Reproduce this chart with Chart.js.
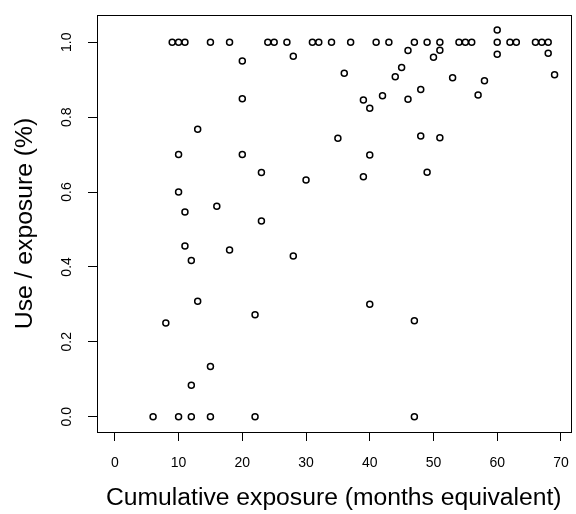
<!DOCTYPE html>
<html>
<head>
<meta charset="utf-8">
<script src="https://cdn.jsdelivr.net/npm/chart.js@4"></script>
<style>
html,body{margin:0;padding:0;background:#fff;}
canvas{display:block;}
</style>
</head>
<body>
<canvas id="c" width="576" height="514"></canvas>
<script>
// Cumulative exposure (months equivalent)
const exposure = [
  9,10,11,15,18,24,25,27,31,32,34,37,41,43,47,49,51,54,55,56,60,62,63,66,67,68,
  20,28,36,20,13,35,10,20,23,30,10,11,16,23,
  60,60,68,69,46,51,50,45,44,53,58,57,48,42,46,39,40,48,51,40,49,39,
  11,18,12,28,13,22,8,15,12,
  6,10,12,15,22,47,
  40,47
];
// Use / exposure
const useRatio = [
  1,1,1,1,1,1,1,1,1,1,1,1,1,1,1,1,1,1,1,1,1,1,1,1,1,1,
  0.950,0.963,0.917,0.849,0.768,0.744,0.700,0.700,0.652,0.632,0.600,0.547,0.562,0.523,
  0.968,1.033,0.971,0.913,0.978,0.979,0.960,0.933,0.908,0.905,0.897,0.859,0.874,0.857,0.848,0.846,0.824,0.750,0.745,0.699,0.653,0.641,
  0.456,0.445,0.417,0.429,0.308,0.272,0.250,0.134,0.084,
  0,0,0,0,0,0,
  0.300,0.256
];
const xTicks = [0,10,20,30,40,50,60,70];
const yTicks = [0,0.2,0.4,0.6,0.8,1.0];
const yTickLabels = ["0.0","0.2","0.4","0.6","0.8","1.0"];

const FONT = "'Liberation Sans', Arial, Helvetica, sans-serif";

const points = exposure.map((x,i)=>({x:x, y:useRatio[i]}));

const customPlugin = {
  id: 'rstyle',
  afterDraw(chart){
    const ctx = chart.ctx;
    const a = chart.chartArea;
    ctx.save();
    ctx.strokeStyle = '#000';
    ctx.lineWidth = 1;
    ctx.strokeRect(Math.round(a.left)+0.5, Math.round(a.top)+0.5, Math.round(a.right-a.left), Math.round(a.bottom-a.top));
    ctx.fillStyle = '#000';
    ctx.font = '14px ' + FONT;
    // x tick labels
    const xs = chart.scales.x;
    ctx.textAlign = 'center';
    ctx.textBaseline = 'middle';
    xs.ticks.forEach(t=>{
      ctx.fillText(String(t.value), xs.getPixelForValue(t.value), 463);
    });
    // y tick labels rotated
    const ys = chart.scales.y;
    ys.ticks.forEach((t,i)=>{
      const py = ys.getPixelForValue(t.value);
      ctx.save();
      ctx.translate(67, py);
      ctx.rotate(-Math.PI/2);
      ctx.fillText(yTickLabels[i], 0, 0);
      ctx.restore();
    });
    ctx.restore();
  }
};

new Chart(document.getElementById('c'), {
  type: 'scatter',
  data: {
    datasets: [{
      data: points,
      pointStyle: 'circle',
      pointRadius: 3,
      pointBorderWidth: 1.5,
      pointBackgroundColor: 'rgba(0,0,0,0)',
      pointBorderColor: '#000',
      showLine: false
    }]
  },
  options: {
    responsive: false,
    devicePixelRatio: 1,
    animation: false,
    layout: { padding: { top: 15, right: 3, left: 0, bottom: 0 } },
    plugins: { legend: { display: false }, tooltip: { enabled: false } },
    scales: {
      x: {
        type: 'linear',
        min: -2.8, max: 71.5,
        afterBuildTicks: s => { s.ticks = xTicks.map(v=>({value:v})); },
        afterFit: s => { s.height = 82; },
        grid: { drawOnChartArea: false, drawTicks: true, tickLength: 9, color: '#000', tickColor: '#000', lineWidth: 1 },
        border: { display: false },
        ticks: { color: 'rgba(0,0,0,0)', font: { size: 14, family: FONT } },
        title: { display: true, text: 'Cumulative exposure (months equivalent)', color: '#000',
                 font: { size: 24.7, family: FONT }, padding: { top: 0, bottom: 0.5 } }
      },
      y: {
        type: 'linear',
        min: -0.0409, max: 1.0729,
        afterBuildTicks: s => { s.ticks = yTicks.map(v=>({value:v})); },
        afterFit: s => { s.width = 97; },
        grid: { drawOnChartArea: false, drawTicks: true, tickLength: 9, color: '#000', tickColor: '#000', lineWidth: 1 },
        border: { display: false },
        ticks: { color: 'rgba(0,0,0,0)', font: { size: 14, family: FONT } },
        title: { display: true, text: 'Use / exposure (%)', color: '#000',
                 font: { size: 24.7, family: FONT }, padding: { top: 10, bottom: 0 } }
      }
    }
  },
  plugins: [customPlugin]
});
</script>
</body>
</html>
